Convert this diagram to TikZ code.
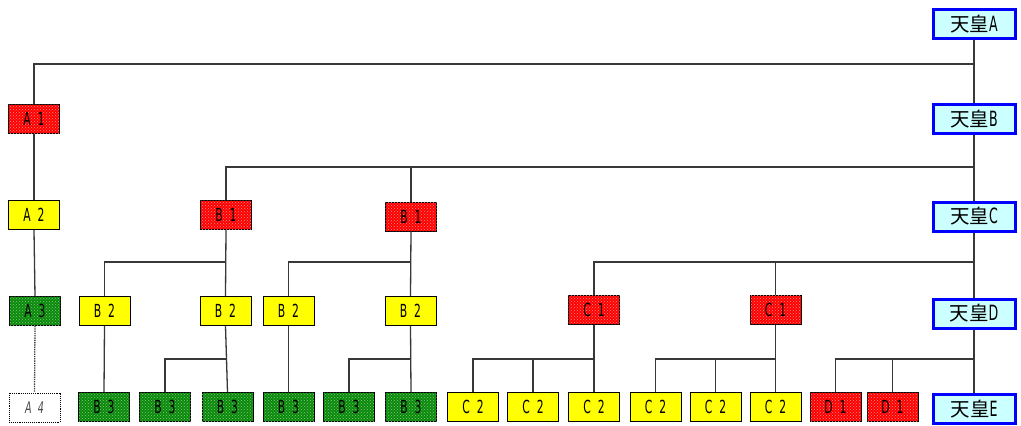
\documentclass[tikz,border=0pt]{standalone}
\usepackage{fontspec}
\newfontfamily\cjk{Noto Sans CJK JP}
\newfontfamily\lat[FakeStretch=0.6,WordSpace=2]{DejaVu Sans}
\usetikzlibrary{patterns}
\definecolor{bred}{HTML}{FF0000}
\definecolor{bgreen}{HTML}{0A8A0A}
\definecolor{byel}{HTML}{FFFF00}
\definecolor{tcyan}{HTML}{CCFFFF}
\definecolor{tblue}{HTML}{0000FF}
\definecolor{conncol}{HTML}{383838}
\begin{document}
\begin{tikzpicture}[x=1pt,y=-1pt,
 box/.style={draw=black, line width=0.9pt, minimum width=51pt, minimum height=29pt, inner sep=0pt, font=\lat\fontsize{18}{18}\selectfont},
 redbox/.style={box, fill=bred, postaction={pattern=crosshatch dots, pattern color=white!55!bred}},
 greenbox/.style={box, fill=bgreen, postaction={pattern=crosshatch dots, pattern color=white!50!bgreen}},
 yelbox/.style={box, fill=byel},
 dotbox/.style={box, densely dotted, fill=white, text=black!70, font=\lat\itshape\fontsize{16}{16}\selectfont},
 tenbox/.style={draw=tblue, line width=3pt, fill=tcyan, minimum width=82pt, minimum height=29pt, inner sep=0pt},
 conn/.style={draw=conncol, line width=1.3pt},
 dconn/.style={conn, densely dotted}
]
\path[fill=white] (0,0) rectangle (1021,426);
\useasboundingbox (0,0) rectangle (1021,426);

% emperor column
\node[tenbox] (tA) at (974,24) {{\cjk\fontsize{19.5}{19.5}\selectfont 天皇}{\lat\fontsize{21}{21}\selectfont A}};
\node[tenbox] (tB) at (974,119) {{\cjk\fontsize{19.5}{19.5}\selectfont 天皇}{\lat\fontsize{21}{21}\selectfont B}};
\node[tenbox] (tC) at (974,216.5) {{\cjk\fontsize{19.5}{19.5}\selectfont 天皇}{\lat\fontsize{21}{21}\selectfont C}};
\node[tenbox] (tD) at (974,313.5) {{\cjk\fontsize{19.5}{19.5}\selectfont 天皇}{\lat\fontsize{21}{21}\selectfont D}};
\node[tenbox] (tE) at (974,409) {{\cjk\fontsize{19.5}{19.5}\selectfont 天皇}{\lat\fontsize{21}{21}\selectfont E}};

% A line
\node[redbox] (a1) at (34,119) {A 1};
\node[yelbox] (a2) at (34,215) {A 2};
\node[greenbox] (a3) at (35,311) {A 3};
\node[dotbox] (a4) at (34.5,407.5) {A 4};

% B line
\node[redbox] (b1a) at (226,215) {B 1};
\node[redbox] (b1b) at (411,216.5) {B 1};
\node[yelbox] (b2a) at (104.5,311) {B 2};
\node[yelbox] (b2b) at (225.5,311) {B 2};
\node[yelbox] (b2c) at (288.5,311) {B 2};
\node[yelbox] (b2d) at (410.5,311) {B 2};
\node[greenbox] (b3a) at (104,407) {B 3};
\node[greenbox] (b3b) at (165,407) {B 3};
\node[greenbox] (b3c) at (227.5,407) {B 3};
\node[greenbox] (b3d) at (288.5,407) {B 3};
\node[greenbox] (b3e) at (349,407) {B 3};
\node[greenbox] (b3f) at (411,407) {B 3};

% C line
\node[redbox] (c1a) at (594,310) {C 1};
\node[redbox] (c1b) at (775.5,310) {C 1};
\node[yelbox] (c2a) at (473,407) {C 2};
\node[yelbox] (c2b) at (533,407) {C 2};
\node[yelbox] (c2c) at (594,407) {C 2};
\node[yelbox] (c2d) at (655.5,407) {C 2};
\node[yelbox] (c2e) at (715.5,407) {C 2};
\node[yelbox] (c2f) at (775.5,407) {C 2};

% D line
\node[redbox] (d1a) at (835.5,407) {D 1};
\node[redbox] (d1b) at (892.5,407) {D 1};

% junction coordinates
\coordinate (h1) at (974,64);
\coordinate (h2) at (974,167);
\coordinate (h3) at (974,262);
\coordinate (h4) at (974,359);
\coordinate (j1) at (226,262);
\coordinate (j2) at (411,262);
\coordinate (j3) at (226,359);
\coordinate (j4) at (411,359);
\coordinate (j5) at (594,359);
\coordinate (j6) at (775.5,359);

% connectors
\draw[conn] (tA.south) -- (tB.north);
\draw[conn] (tB.south) -- (tC.north);
\draw[conn] (tC.south) -- (tD.north);
\draw[conn] (tD.south) -- (tE.north);

\draw[conn] (a1.north) |- (h1);
\draw[conn] (a1.south) -- (a2.north);
\draw[conn] (a2.south) -- (a3.north);
\draw[dconn] (a3.south) -- (a4.north);

\draw[conn] (b1a.north) |- (h2);
\draw[conn] (b1b.north) -- (b1b.north |- h2);
\draw[conn] (b1a.south) -- (b2b.north);
\draw[conn] (b2a.north) |- (j1);
\draw[conn] (b1b.south) -- (b2d.north);
\draw[conn] (b2c.north) |- (j2);
\draw[conn] (b2a.south) -- (b3a.north);
\draw[conn] (b2b.south) -- (b3c.north);
\draw[conn] (b3b.north) |- (j3);
\draw[conn] (b2c.south) -- (b3d.north);
\draw[conn] (b2d.south) -- (b3f.north);
\draw[conn] (b3e.north) |- (j4);

\draw[conn] (c1a.north) |- (h3);
\draw[conn] (c1b.north) -- (c1b.north |- h3);
\draw[conn] (c1a.south) -- (c2c.north);
\draw[conn] (c2a.north) |- (j5);
\draw[conn] (c2b.north) -- (c2b.north |- j5);
\draw[conn] (c1b.south) -- (c2f.north);
\draw[conn] (c2d.north) |- (j6);
\draw[conn] (c2e.north) -- (c2e.north |- j6);

\draw[conn] (d1a.north) |- (h4);
\draw[conn] (d1b.north) -- (d1b.north |- h4);
\end{tikzpicture}
\end{document}
